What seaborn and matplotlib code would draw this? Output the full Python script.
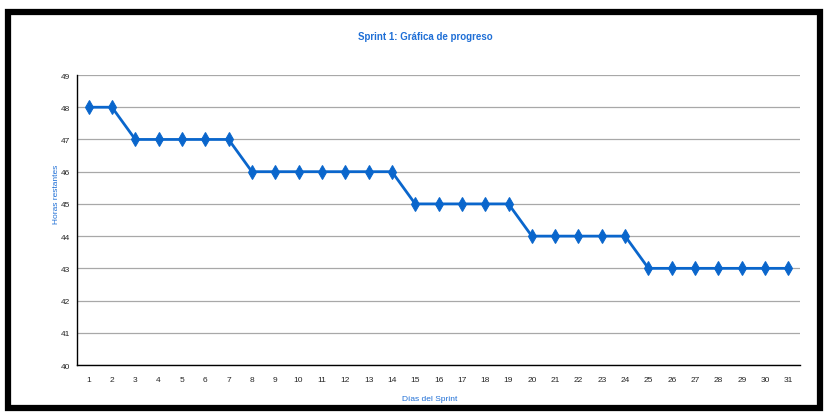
import numpy as np
import pandas as pd
import seaborn as sns
import matplotlib.pyplot as plt
from matplotlib.patches import Rectangle

# data
days = list(range(1, 32))
hours = [48, 48, 47, 47, 47, 47, 47, 46, 46, 46, 46, 46, 46, 46,
         45, 45, 45, 45, 45, 44, 44, 44, 44, 44,
         43, 43, 43, 43, 43, 43, 43]
y_ticks = list(range(40, 50))

BLUE = "#0a66cc"
TEXT_BLUE = "#1f6fd6"

sns.set_style("white")
plt.rcParams["font.family"] = ["Liberation Sans", "DejaVu Sans"]

df = pd.DataFrame({"Dia": days, "Horas": hours})

fig = plt.figure(figsize=(8.24, 4.14), dpi=100)
ax = fig.add_axes([0.0934, 0.1159, 0.8776, 0.7005])

sns.lineplot(data=df, x="Dia", y="Horas", ax=ax, color=BLUE, linewidth=2,
             marker="d", markersize=7, markeredgecolor=BLUE,
             markerfacecolor=BLUE)

ax.set_xlim(0.5, 31.5)
ax.set_ylim(40, 49)
ax.set_yticks(y_ticks)
ax.set_xticks(days)
ax.set_xticks(np.arange(0.5, 32, 1), minor=True)
ax.tick_params(axis="x", which="major", length=0, labelsize=6, pad=8)
ax.tick_params(axis="x", which="minor", length=3, direction="in", color="black")
ax.tick_params(axis="y", which="major", length=3, direction="out",
               labelsize=6, color="black", pad=2)
ax.yaxis.grid(True, color="#a8a8a8", linewidth=0.9)
ax.set_axisbelow(True)

for side in ["top", "right"]:
    ax.spines[side].set_visible(False)
for side in ["left", "bottom"]:
    ax.spines[side].set_color("black")
    ax.spines[side].set_linewidth(1)

ax.set_xlabel("")
ax.set_ylabel("")
fig.text(0.516, 0.911, "Sprint 1: Gráfica de progreso", ha="center",
         va="center", fontsize=7, fontweight="bold", color=TEXT_BLUE)
fig.text(0.522, 0.034, "Días del Sprint", ha="center", va="center",
         fontsize=6, color=TEXT_BLUE)
fig.text(0.0685, 0.53, "Horas restantes", ha="center", va="center",
         fontsize=6, color=TEXT_BLUE, rotation=90)

# black frame around the chart
fig.patches.append(Rectangle((0.0097, 0.012), 0.9853, 0.9566,
                             transform=fig.transFigure, fill=False,
                             edgecolor="black", linewidth=4.5))

fig.savefig("out.png", dpi=100)
